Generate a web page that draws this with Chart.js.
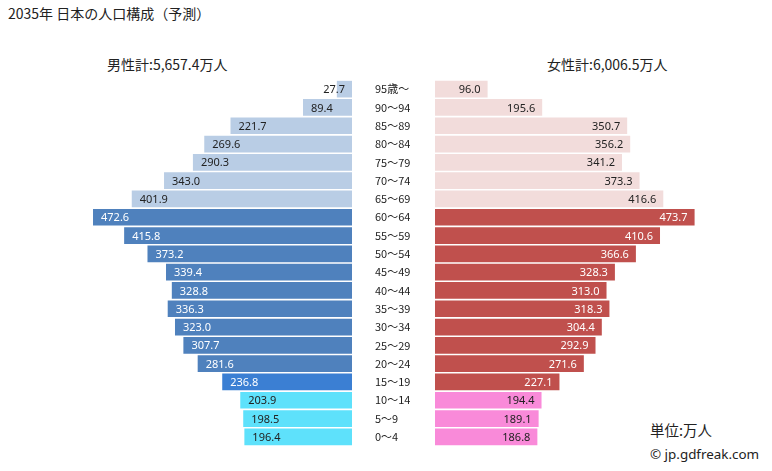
<!DOCTYPE html>
<html><head><meta charset="utf-8">
<script src="https://cdn.jsdelivr.net/npm/chart.js@4/dist/chart.umd.min.js"></script>
<style>
html,body{margin:0;padding:0;background:#fff;width:772px;height:471px;overflow:hidden;position:relative;font-family:"Noto Sans CJK JP","Noto Sans",sans-serif;color:#222}
.t{position:absolute;white-space:nowrap;line-height:1}
canvas{position:absolute}
</style></head><body>
<div class="t" id="title" style="left:8px;top:6px;font-size:14px">2035年 日本の人口構成（予測）</div>
<div class="t" id="mtot" style="left:107px;top:57px;font-size:14px"></div>
<div class="t" id="ftot" style="left:547px;top:57px;font-size:14px"></div>
<div class="t" style="left:650px;top:423px;font-size:14.5px">単位:万人</div>
<div class="t" style="left:650px;top:448px;font-size:13.4px;font-family:'Noto Sans',sans-serif">© jp.gdfreak.com</div>
<canvas id="cm" width="274" height="366" style="left:78px;top:80px"></canvas>
<canvas id="cf" width="334" height="366" style="left:375px;top:80px"></canvas>
<script>
const ages = ["95歳～","90～94","85～89","80～84","75～79","70～74","65～69","60～64","55～59","50～54","45～49","40～44","35～39","30～34","25～29","20～24","15～19","10～14","5～9","0～4"];
const male = [27.7,89.4,221.7,269.6,290.3,343.0,401.9,472.6,415.8,373.2,339.4,328.8,336.3,323.0,307.7,281.6,236.8,203.9,198.5,196.4];
const female = [96.0,195.6,350.7,356.2,341.2,373.3,416.6,473.7,410.6,366.6,328.3,313.0,318.3,304.4,292.9,271.6,227.1,194.4,189.1,186.8];
const maleTotal = "5,657.4";
const femaleTotal = "6,006.5";

document.getElementById('mtot').textContent = "男性計:" + maleTotal + "万人";
document.getElementById('ftot').textContent = "女性計:" + femaleTotal + "万人";

function grp(i){ return i<=6 ? 'old' : (i<=15 ? 'work' : (i===16 ? 'teen' : 'young')); }
const maleCol = {old:'#b9cde5', work:'#4f81bd', teen:'#3b7fd3', young:'#5ee1fb'};
const femCol = {old:'#f2dcdb', work:'#c0504d', teen:'#c0504d', young:'#f98ad9'};
const maleTxt = {old:'#222', work:'#fff', teen:'#fff', young:'#222'};
const femTxt = {old:'#222', work:'#fff', teen:'#fff', young:'#222'};

const labelPlugin = {
  id:'lbl',
  afterDatasetsDraw(chart){
    const ctx = chart.ctx;
    const side = chart.options.plugins.lbl.side;
    const meta = chart.getDatasetMeta(0);
    const data = chart.data.datasets[0].data;
    ctx.save();
    ctx.font = '11px "Noto Sans", sans-serif';
    ctx.textBaseline = 'middle';
    meta.data.forEach((el,i)=>{
      const txt = data[i].toFixed(1);
      const w = ctx.measureText(txt).width;
      const g = grp(i);
      if(side==='m'){
        ctx.fillStyle = maleTxt[g];
        const left = Math.min(el.x + 8, el.base - 7 - w);
        ctx.textAlign='left';
        ctx.fillText(txt, left, el.y+1);
      } else {
        ctx.fillStyle = femTxt[g];
        ctx.textAlign='right';
        ctx.fillText(txt, el.x - 7, el.y+1);
      }
    });
    if(side==='f'){
      const ys = chart.scales.y;
      ctx.fillStyle = '#222';
      ctx.textAlign = 'left';
      ctx.font = '11px "Noto Sans CJK JP", sans-serif';
      chart.data.labels.forEach((lab,i)=>{
        ctx.fillText(lab, 0, ys.getPixelForTick(i));
      });
    }
    ctx.restore();
  }
};

const common = {
  indexAxis:'y', responsive:false, animation:false, devicePixelRatio:1
};

new Chart(document.getElementById('cm'), {
  type:'bar',
  data:{labels:ages, datasets:[{data:male, backgroundColor:male.map((v,i)=>maleCol[grp(i)]), borderWidth:0, barPercentage:0.91, categoryPercentage:1}]},
  options:Object.assign({}, common, {
    layout:{padding:0},
    plugins:{legend:{display:false}, tooltip:{enabled:false}, lbl:{side:'m'}},
    scales:{
      x:{display:false, reverse:true, min:0, max:500},
      y:{display:false}
    }
  }),
  plugins:[labelPlugin]
});

new Chart(document.getElementById('cf'), {
  type:'bar',
  data:{labels:ages, datasets:[{data:female, backgroundColor:female.map((v,i)=>femCol[grp(i)]), borderWidth:0, barPercentage:0.91, categoryPercentage:1}]},
  options:Object.assign({}, common, {
    layout:{padding:{left:60, right:0, top:0, bottom:0}},
    plugins:{legend:{display:false}, tooltip:{enabled:false}, lbl:{side:'f'}},
    scales:{
      x:{display:false, min:0, max:500},
      y:{display:false}
    }
  }),
  plugins:[labelPlugin]
});
</script>
</body></html>
